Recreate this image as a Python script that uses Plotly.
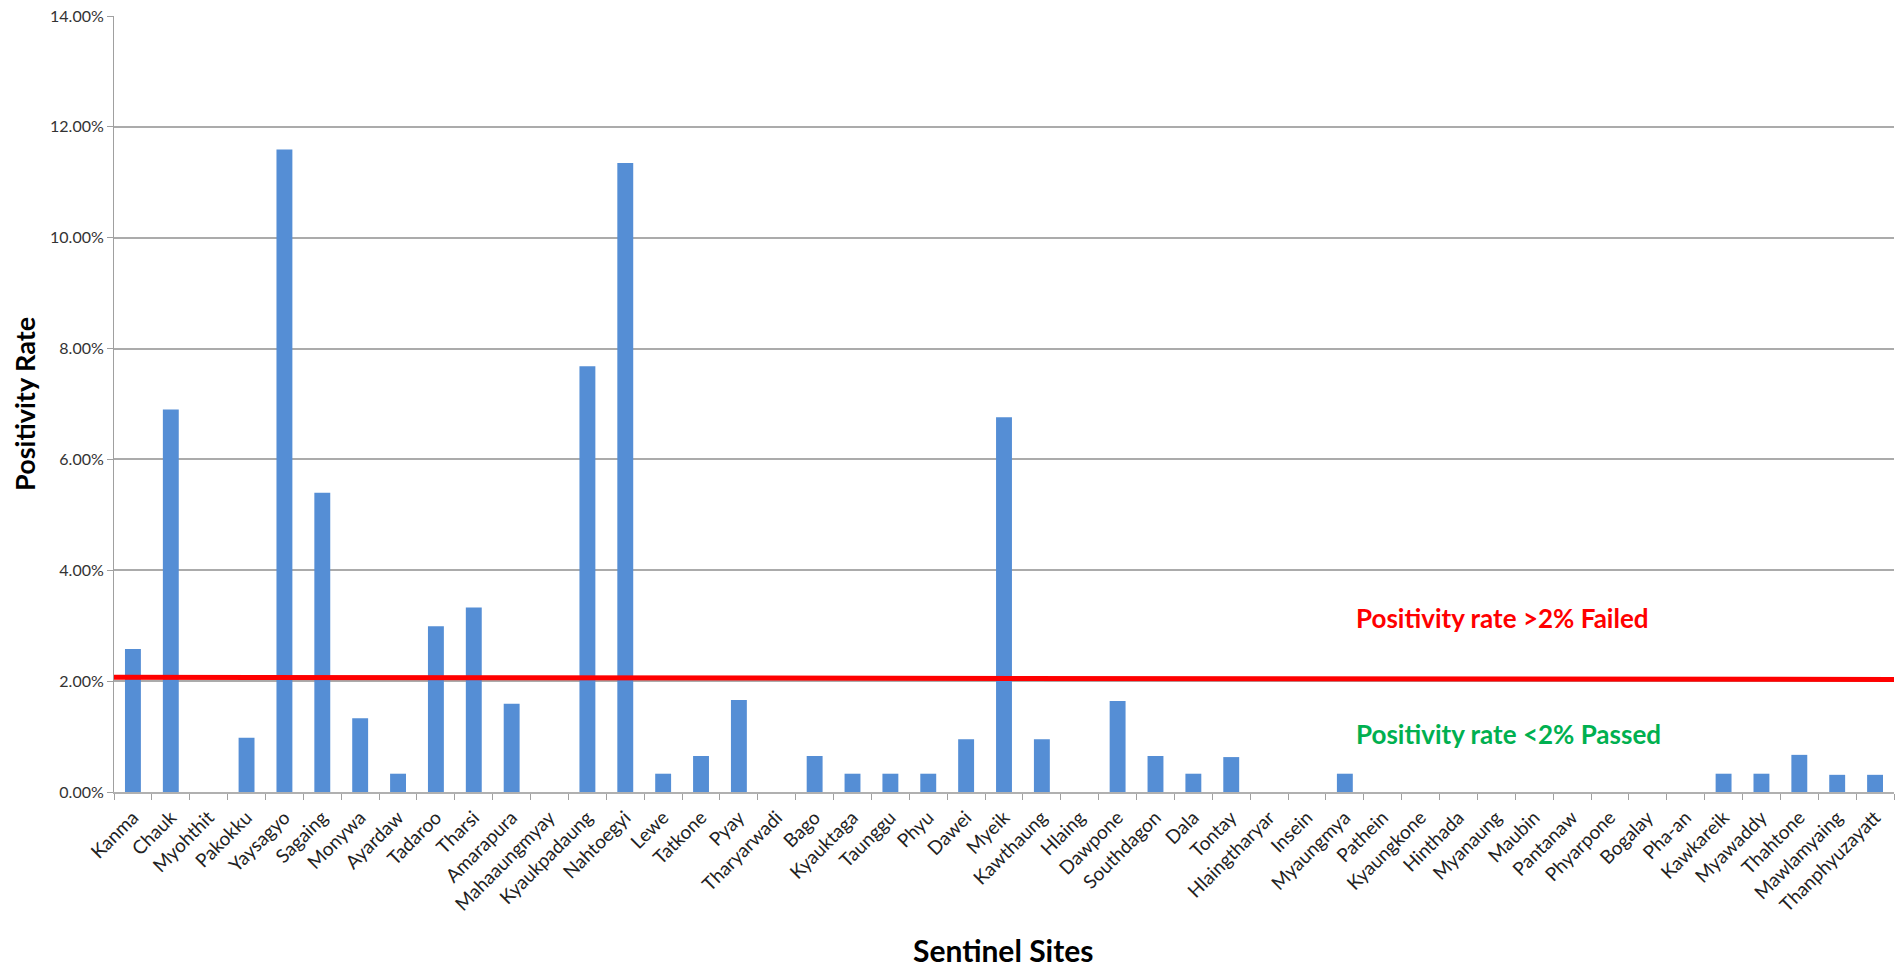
import plotly.graph_objects as go

# Sentinel sites and their positivity rate (%)
sites = [
    "Kanma", "Chauk", "Myohthit", "Pakokku", "Yaysagyo", "Sagaing", "Monywa",
    "Ayardaw", "Tadaroo", "Tharsi", "Amarapura", "Mahaaungmyay", "Kyaukpadaung",
    "Nahtoegyi", "Lewe", "Tatkone", "Pyay", "Tharyarwadi", "Bago", "Kyauktaga",
    "Taunggu", "Phyu", "Dawei", "Myeik", "Kawthaung", "Hlaing", "Dawpone",
    "Southdagon", "Dala", "Tontay", "Hlaingtharyar", "Insein", "Myaungmya",
    "Pathein", "Kyaungkone", "Hinthada", "Myanaung", "Maubin", "Pantanaw",
    "Phyarpone", "Bogalay", "Pha-an", "Kawkareik", "Myawaddy", "Thahtone",
    "Mawlamyaing", "Thanphyuzayatt",
]
positivity = [
    2.58, 6.90, 0.0, 0.98, 11.59, 5.40, 1.33,
    0.33, 2.99, 3.33, 1.59, 0.0, 7.68,
    11.35, 0.33, 0.65, 1.66, 0.0, 0.65, 0.33,
    0.33, 0.33, 0.95, 6.76, 0.95, 0.0, 1.64,
    0.65, 0.33, 0.63, 0.0, 0.0, 0.33,
    0.0, 0.0, 0.0, 0.0, 0.0, 0.0,
    0.0, 0.0, 0.0, 0.33, 0.33, 0.67,
    0.31, 0.31,
]

# Cut-off line (hand drawn, slightly sloping from left to right)
threshold_left = 2.07
threshold_right = 2.03

y_ticks = [0, 2, 4, 6, 8, 10, 12, 14]

FONT = "Lato"
GRID = "#ababab"

fig = go.Figure()
fig.add_trace(go.Bar(
    x=sites,
    y=positivity,
    marker=dict(color="#558ED5", line=dict(width=0)),
    hoverinfo="x+y",
))

fig.add_shape(
    type="line", xref="paper", yref="y",
    x0=0, x1=1, y0=threshold_left, y1=threshold_right,
    line=dict(color="#FF0000", width=5), layer="above",
)

fig.add_annotation(
    text="<b>Positivity rate >2% Failed</b>", xref="paper", yref="y",
    x=0.6966, y=3.14, xanchor="left", yanchor="middle", showarrow=False,
    font=dict(family=FONT, size=26, color="#FF0000"),
)
fig.add_annotation(
    text="<b>Positivity rate <2% Passed</b>", xref="paper", yref="y",
    x=0.6966, y=1.04, xanchor="left", yanchor="middle", showarrow=False,
    font=dict(family=FONT, size=26, color="#00B050"),
)
fig.add_annotation(
    text="<b>Positivity Rate</b>", xref="paper", yref="paper",
    x=-0.0506, y=0.50, xanchor="center", yanchor="middle", textangle=-90,
    showarrow=False, font=dict(family=FONT, size=27, color="#000000"),
)
fig.add_annotation(
    text="<b>Sentinel Sites</b>", xref="paper", yref="paper",
    x=0.4995, y=-0.204, xanchor="center", yanchor="middle",
    showarrow=False, font=dict(family=FONT, size=30, color="#000000"),
)

fig.update_layout(
    width=1895, height=975,
    margin=dict(l=114, r=1, t=16, b=183),
    paper_bgcolor="white", plot_bgcolor="white",
    bargap=0.58,
    showlegend=False,
    font=dict(family=FONT, color="#333333"),
)
fig.update_xaxes(
    type="category",
    tickangle=-45,
    tickfont=dict(family=FONT, size=19, color="#222222"),
    ticks="outside", tickson="boundaries", ticklen=6, tickcolor="#a0a0a0",
    ticklabelstandoff=5,
    showline=True, linecolor="#b0b0b0", linewidth=2,
    showgrid=False,
)
fig.update_yaxes(
    range=[0, 14],
    tickvals=y_ticks,
    ticktext=[f"{v:.2f}%" for v in y_ticks],
    tickfont=dict(family=FONT, size=16, color="#333333"),
    ticks="outside", ticklen=6, tickcolor="#a0a0a0",
    showline=True, linecolor="#a0a0a0", linewidth=1,
    showgrid=True, gridcolor=GRID, gridwidth=1.5,
    zeroline=False,
)

fig.write_html("out.html")
